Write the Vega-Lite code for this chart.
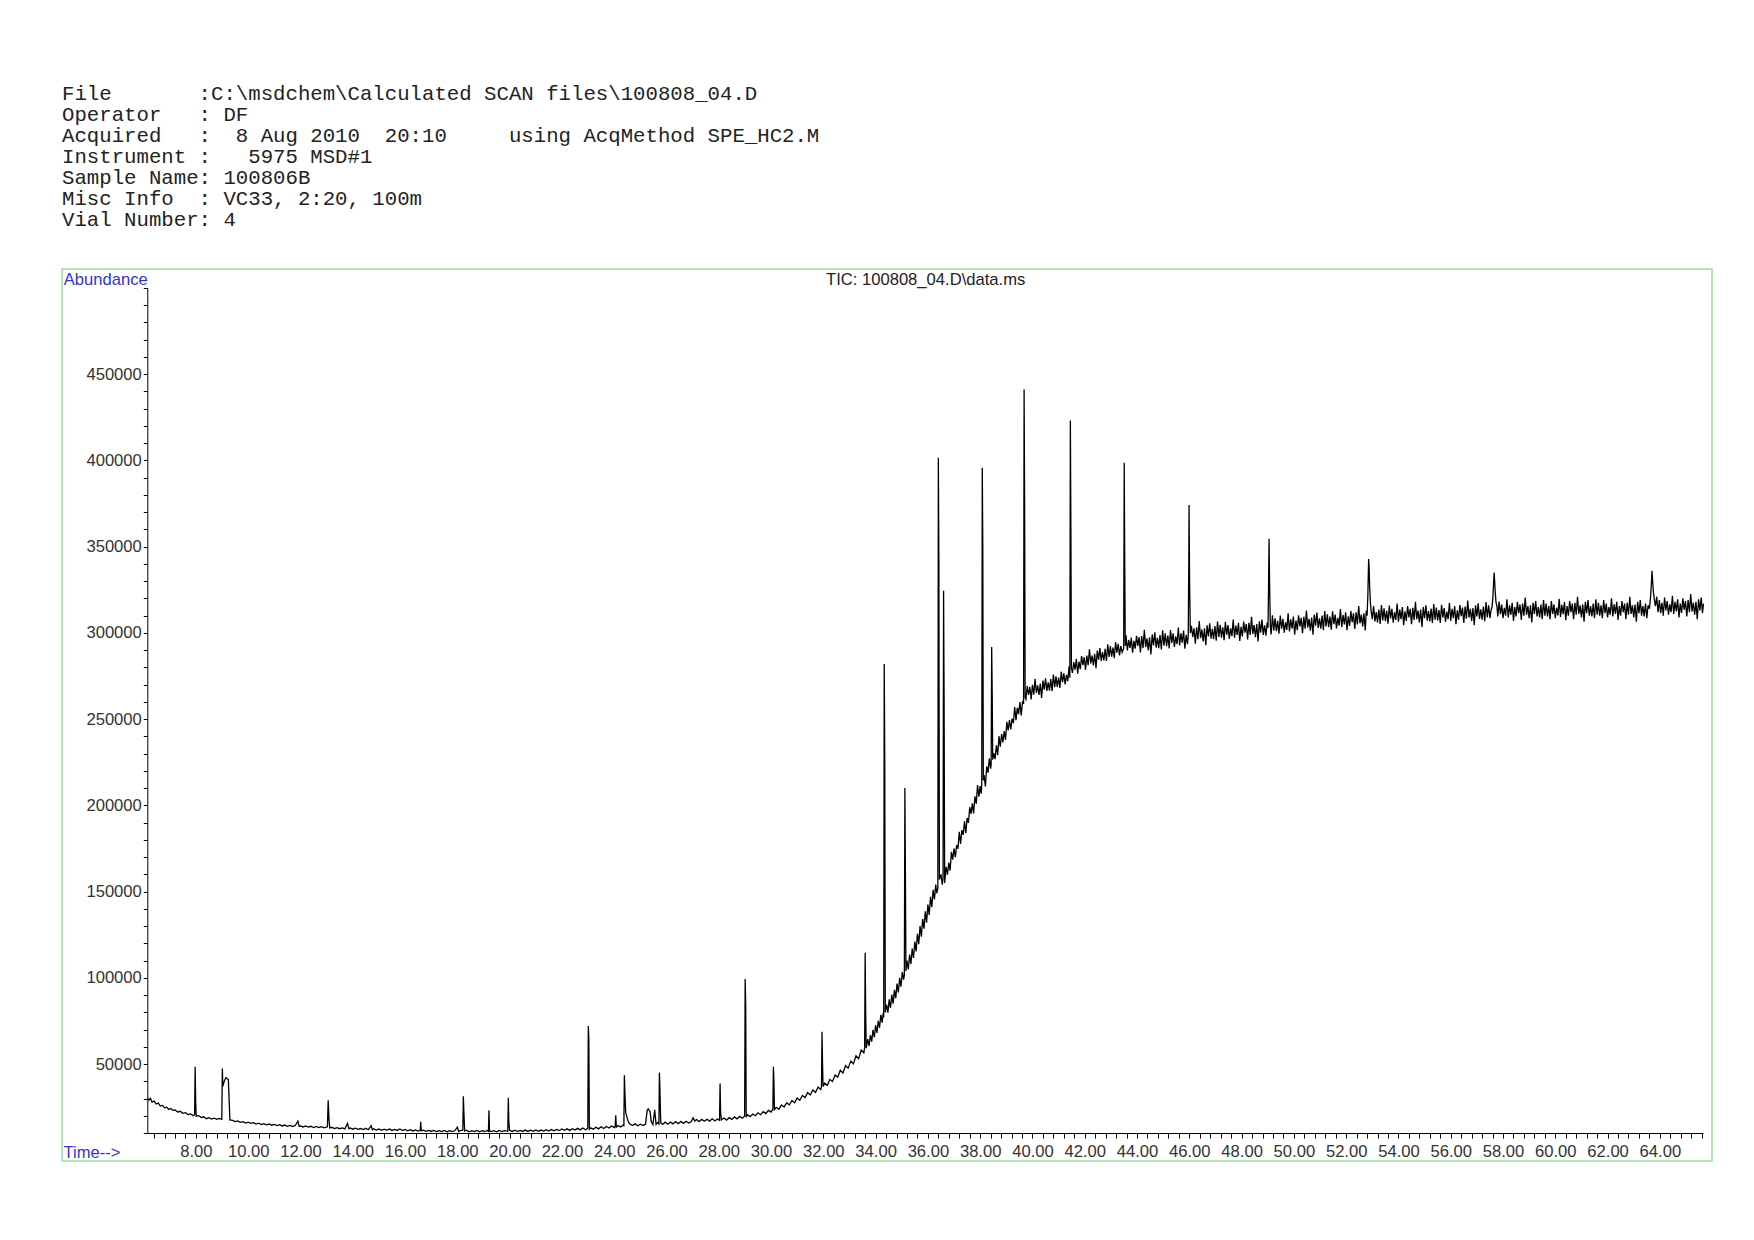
{
"$schema":"https://vega.github.io/schema/vega-lite/v6.json",
"width":1650,"height":892,
"autosize":{"type":"none"},
"padding":{"left":62,"top":269,"right":42,"bottom":79},
"background":"white",
"title":{"text":["File\u00a0\u00a0\u00a0\u00a0\u00a0\u00a0\u00a0:C:\\msdchem\\Calculated\u00a0SCAN\u00a0files\\100808_04.D","Operator\u00a0\u00a0\u00a0:\u00a0DF","Acquired\u00a0\u00a0\u00a0:\u00a0\u00a08\u00a0Aug\u00a02010\u00a0\u00a020:10\u00a0\u00a0\u00a0\u00a0\u00a0using\u00a0AcqMethod\u00a0SPE_HC2.M","Instrument\u00a0:\u00a0\u00a0\u00a05975\u00a0MSD#1","Sample\u00a0Name:\u00a0100806B","Misc\u00a0Info\u00a0\u00a0:\u00a0VC33,\u00a02:20,\u00a0100m","Vial\u00a0Number:\u00a04"],
"anchor":"start","frame":"group","font":"Liberation Mono","fontSize":20.7,"fontWeight":"normal","color":"#222222","lineHeight":20.9,"offset":38.5},
"config":{"view":{"stroke":"#98e0a0","strokeWidth":1.5},
"axis":{"labelFont":"Liberation Sans","labelFontSize":16.6,"labelColor":"#333333","tickColor":"#000000","domainColor":"#000000","domainWidth":1,"tickWidth":1,"grid":false,"titleFont":"Liberation Sans","titleFontSize":16.6,"titleFontWeight":"normal"}},
"data":{"values":[
{"time":6.14,"tic":30300},{"time":6.2,"tic":29000},{"time":6.26,"tic":30100},{"time":6.32,"tic":27900},{"time":6.4,"tic":28500},{"time":6.48,"tic":26800},{"time":6.56,"tic":27300},{"time":6.64,"tic":25600},{"time":6.72,"tic":26000},{"time":6.8,"tic":24600},{"time":6.88,"tic":25000},{"time":6.96,"tic":23700},{"time":7.04,"tic":24200},{"time":7.12,"tic":23100},{"time":7.2,"tic":23400},{"time":7.3,"tic":22200},{"time":7.4,"tic":22600},{"time":7.5,"tic":21400},{"time":7.6,"tic":21800},{"time":7.7,"tic":20700},{"time":7.8,"tic":21100},{"time":7.9,"tic":20000},{"time":7.95,"tic":20600},{"time":7.97,"tic":48400},{"time":7.99,"tic":29000},{"time":8.01,"tic":19800},{"time":8.1,"tic":20100},{"time":8.2,"tic":19000},{"time":8.3,"tic":19400},{"time":8.4,"tic":18300},{"time":8.5,"tic":18900},{"time":8.6,"tic":18100},{"time":8.7,"tic":18600},{"time":8.8,"tic":17900},{"time":8.9,"tic":18500},{"time":8.99,"tic":18000},{"time":9.01,"tic":47400},{"time":9.03,"tic":37000},{"time":9.06,"tic":38900},{"time":9.1,"tic":40600},{"time":9.15,"tic":42200},{"time":9.2,"tic":41500},{"time":9.24,"tic":41000},{"time":9.27,"tic":29000},{"time":9.3,"tic":17600},{"time":9.4,"tic":17300},{"time":9.5,"tic":16600},{"time":9.6,"tic":17000},{"time":9.7,"tic":16200},{"time":9.8,"tic":16600},{"time":9.9,"tic":15800},{"time":10.0,"tic":16300},{"time":10.1,"tic":15600},{"time":10.2,"tic":16000},{"time":10.3,"tic":15200},{"time":10.4,"tic":15700},{"time":10.5,"tic":14900},{"time":10.6,"tic":15400},{"time":10.7,"tic":14700},{"time":10.8,"tic":15200},{"time":10.9,"tic":14500},{"time":11.0,"tic":15000},{"time":11.1,"tic":14300},{"time":11.2,"tic":14800},{"time":11.3,"tic":14100},{"time":11.4,"tic":14600},{"time":11.5,"tic":13900},{"time":11.6,"tic":14400},{"time":11.7,"tic":13700},{"time":11.8,"tic":14300},{"time":11.9,"tic":16800},{"time":11.95,"tic":13800},{"time":12.0,"tic":14100},{"time":12.1,"tic":13500},{"time":12.2,"tic":14100},{"time":12.3,"tic":13400},{"time":12.4,"tic":13900},{"time":12.5,"tic":13200},{"time":12.6,"tic":13800},{"time":12.7,"tic":13100},{"time":12.8,"tic":13700},{"time":12.9,"tic":13000},{"time":13.03,"tic":13600},{"time":13.06,"tic":29000},{"time":13.09,"tic":18000},{"time":13.12,"tic":12900},{"time":13.2,"tic":13300},{"time":13.3,"tic":12600},{"time":13.4,"tic":13100},{"time":13.5,"tic":12500},{"time":13.6,"tic":13000},{"time":13.7,"tic":12400},{"time":13.8,"tic":15600},{"time":13.85,"tic":12500},{"time":13.9,"tic":12900},{"time":14.0,"tic":12200},{"time":14.1,"tic":12800},{"time":14.2,"tic":12100},{"time":14.3,"tic":12600},{"time":14.4,"tic":12000},{"time":14.5,"tic":12700},{"time":14.6,"tic":11900},{"time":14.7,"tic":14200},{"time":14.75,"tic":11900},{"time":14.8,"tic":12400},{"time":14.9,"tic":11700},{"time":15.0,"tic":12300},{"time":15.1,"tic":11600},{"time":15.2,"tic":12200},{"time":15.3,"tic":11600},{"time":15.4,"tic":12300},{"time":15.5,"tic":11500},{"time":15.6,"tic":12100},{"time":15.7,"tic":11500},{"time":15.8,"tic":12300},{"time":15.9,"tic":11400},{"time":16.0,"tic":12100},{"time":16.1,"tic":11300},{"time":16.2,"tic":11900},{"time":16.3,"tic":11200},{"time":16.4,"tic":11800},{"time":16.5,"tic":11100},{"time":16.58,"tic":11600},{"time":16.6,"tic":16500},{"time":16.62,"tic":11300},{"time":16.7,"tic":11600},{"time":16.8,"tic":11000},{"time":16.9,"tic":11500},{"time":17.0,"tic":10900},{"time":17.1,"tic":11500},{"time":17.2,"tic":10800},{"time":17.3,"tic":11400},{"time":17.4,"tic":10800},{"time":17.5,"tic":11500},{"time":17.6,"tic":10700},{"time":17.7,"tic":11400},{"time":17.8,"tic":10800},{"time":17.9,"tic":11300},{"time":18.0,"tic":13400},{"time":18.05,"tic":10900},{"time":18.1,"tic":11400},{"time":18.21,"tic":11600},{"time":18.23,"tic":31300},{"time":18.25,"tic":22000},{"time":18.28,"tic":11100},{"time":18.35,"tic":11600},{"time":18.45,"tic":10700},{"time":18.55,"tic":11400},{"time":18.65,"tic":10800},{"time":18.75,"tic":11500},{"time":18.85,"tic":10700},{"time":18.95,"tic":11300},{"time":19.05,"tic":10800},{"time":19.15,"tic":11500},{"time":19.19,"tic":11000},{"time":19.21,"tic":23200},{"time":19.23,"tic":11200},{"time":19.3,"tic":10800},{"time":19.4,"tic":11400},{"time":19.5,"tic":10700},{"time":19.6,"tic":11500},{"time":19.7,"tic":10800},{"time":19.8,"tic":11400},{"time":19.93,"tic":11000},{"time":19.95,"tic":30400},{"time":19.97,"tic":16000},{"time":20.0,"tic":11500},{"time":20.1,"tic":10900},{"time":20.2,"tic":11600},{"time":20.3,"tic":10800},{"time":20.4,"tic":11500},{"time":20.5,"tic":10900},{"time":20.6,"tic":11700},{"time":20.7,"tic":10900},{"time":20.8,"tic":11600},{"time":20.9,"tic":11000},{"time":21.0,"tic":11800},{"time":21.1,"tic":11000},{"time":21.2,"tic":11700},{"time":21.3,"tic":11100},{"time":21.4,"tic":11900},{"time":21.5,"tic":11100},{"time":21.6,"tic":12000},{"time":21.7,"tic":11300},{"time":21.8,"tic":12100},{"time":21.9,"tic":11400},{"time":22.0,"tic":12300},
{"time":22.1,"tic":11600},{"time":22.2,"tic":12400},{"time":22.3,"tic":11500},{"time":22.4,"tic":12500},{"time":22.5,"tic":11700},{"time":22.6,"tic":12700},{"time":22.7,"tic":11800},{"time":22.8,"tic":12900},{"time":22.9,"tic":11900},{"time":22.99,"tic":12800},{"time":23.01,"tic":72000},{"time":23.03,"tic":64000},{"time":23.05,"tic":12200},{"time":23.1,"tic":13000},{"time":23.2,"tic":12200},{"time":23.3,"tic":13300},{"time":23.4,"tic":12400},{"time":23.5,"tic":13600},{"time":23.6,"tic":12600},{"time":23.7,"tic":13800},{"time":23.8,"tic":12900},{"time":23.9,"tic":14100},{"time":24.0,"tic":13100},{"time":24.04,"tic":14000},{"time":24.06,"tic":20300},{"time":24.08,"tic":13400},{"time":24.15,"tic":14300},{"time":24.25,"tic":13500},{"time":24.33,"tic":14500},{"time":24.37,"tic":14200},{"time":24.39,"tic":43500},{"time":24.41,"tic":33000},{"time":24.44,"tic":22000},{"time":24.5,"tic":18500},{"time":24.55,"tic":16300},{"time":24.6,"tic":15200},{"time":24.7,"tic":14300},{"time":24.8,"tic":15300},{"time":24.9,"tic":14200},{"time":25.0,"tic":15100},{"time":25.1,"tic":14300},{"time":25.2,"tic":15200},{"time":25.26,"tic":23000},{"time":25.3,"tic":24000},{"time":25.37,"tic":22500},{"time":25.42,"tic":16500},{"time":25.48,"tic":14800},{"time":25.55,"tic":23500},{"time":25.6,"tic":15000},{"time":25.66,"tic":16100},{"time":25.71,"tic":15200},{"time":25.73,"tic":45000},{"time":25.75,"tic":35000},{"time":25.78,"tic":16000},{"time":25.85,"tic":15000},{"time":25.95,"tic":16300},{"time":26.05,"tic":15100},{"time":26.15,"tic":16400},{"time":26.25,"tic":15300},{"time":26.35,"tic":16600},{"time":26.45,"tic":15400},{"time":26.55,"tic":16700},{"time":26.65,"tic":15600},{"time":26.75,"tic":16800},{"time":26.85,"tic":15800},{"time":26.95,"tic":16600},{"time":27.02,"tic":18800},{"time":27.08,"tic":16900},{"time":27.15,"tic":17800},{"time":27.25,"tic":16600},{"time":27.35,"tic":17900},{"time":27.45,"tic":16800},{"time":27.55,"tic":18000},{"time":27.65,"tic":16900},{"time":27.75,"tic":18200},{"time":27.85,"tic":17000},{"time":27.95,"tic":18100},{"time":28.03,"tic":17300},{"time":28.05,"tic":38700},{"time":28.07,"tic":22000},{"time":28.1,"tic":17600},{"time":28.2,"tic":18700},{"time":28.3,"tic":17500},{"time":28.4,"tic":18900},{"time":28.5,"tic":17900},{"time":28.6,"tic":19300},{"time":28.7,"tic":18200},{"time":28.8,"tic":19600},{"time":28.9,"tic":18600},{"time":28.99,"tic":19800},{"time":29.01,"tic":99300},{"time":29.03,"tic":85000},{"time":29.05,"tic":19200},{"time":29.1,"tic":20600},{"time":29.2,"tic":19500},{"time":29.3,"tic":21000},{"time":29.4,"tic":20000},{"time":29.5,"tic":21700},{"time":29.6,"tic":20600},{"time":29.7,"tic":22400},{"time":29.8,"tic":21300},{"time":29.9,"tic":23100},{"time":30.0,"tic":22100},{"time":30.07,"tic":23900},{"time":30.09,"tic":48400},{"time":30.11,"tic":40000},{"time":30.13,"tic":23500},{"time":30.2,"tic":24900},{"time":30.3,"tic":23800},{"time":30.4,"tic":26300},{"time":30.5,"tic":25100},{"time":30.6,"tic":27600},{"time":30.7,"tic":26200},{"time":30.8,"tic":28900},{"time":30.9,"tic":27600},{"time":31.0,"tic":30300},{"time":31.1,"tic":29000},{"time":31.2,"tic":31800},{"time":31.3,"tic":30600},{"time":31.4,"tic":33400},{"time":31.5,"tic":32000},{"time":31.6,"tic":35000},{"time":31.7,"tic":33500},{"time":31.8,"tic":36600},{"time":31.9,"tic":35200},{"time":31.93,"tic":36900},{"time":31.95,"tic":68700},{"time":31.97,"tic":50000},{"time":31.99,"tic":37000},{"time":32.05,"tic":38900},{"time":32.15,"tic":37600},{"time":32.25,"tic":41000},{"time":32.35,"tic":39900},{"time":32.45,"tic":43600},{"time":32.55,"tic":42400},{"time":32.65,"tic":46400},{"time":32.75,"tic":44800},{"time":32.85,"tic":49000},{"time":32.95,"tic":47600},{"time":33.05,"tic":51700},{"time":33.15,"tic":50100},{"time":33.25,"tic":54800},{"time":33.35,"tic":53100},{"time":33.45,"tic":58100},{"time":33.55,"tic":56500},{"time":33.58,"tic":59500},{"time":33.6,"tic":114500},{"time":33.62,"tic":80000},{"time":33.64,"tic":59200},{"time":33.7,"tic":64500},{"time":33.75,"tic":60500},{"time":33.8,"tic":66800},{"time":33.85,"tic":63000},{"time":33.9,"tic":69800},{"time":33.95,"tic":65500},{"time":34.0,"tic":72500},{"time":34.05,"tic":68000},{"time":34.1,"tic":75000},{"time":34.15,"tic":71000},{"time":34.2,"tic":78500},{"time":34.25,"tic":74000},{"time":34.29,"tic":79500},{"time":34.31,"tic":77000},{"time":34.33,"tic":282000},{"time":34.35,"tic":225000},{"time":34.37,"tic":80000},{"time":34.42,"tic":84500},{"time":34.47,"tic":79800},{"time":34.52,"tic":87500},{"time":34.57,"tic":82600},{"time":34.62,"tic":90200},{"time":34.67,"tic":85000},{"time":34.72,"tic":93000},{"time":34.77,"tic":88200},{"time":34.82,"tic":96600},{"time":34.87,"tic":91500},{"time":34.92,"tic":100000},{"time":34.97,"tic":94800},{"time":35.02,"tic":103400},{"time":35.07,"tic":99000},{"time":35.1,"tic":101500},{"time":35.12,"tic":210000},{"time":35.14,"tic":160000},{"time":35.16,"tic":104000},{"time":35.2,"tic":110000},{"time":35.25,"tic":104800},{"time":35.3,"tic":113500},{"time":35.35,"tic":108000},{"time":35.4,"tic":117000},{"time":35.45,"tic":111500},{"time":35.5,"tic":121000},{"time":35.55,"tic":115300},{"time":35.6,"tic":125500},{"time":35.65,"tic":119500},{"time":35.7,"tic":130000},{"time":35.75,"tic":123800},{"time":35.8,"tic":134000},{"time":35.85,"tic":128500},{"time":35.9,"tic":138500},{"time":35.95,"tic":132000},{"time":36.0,"tic":142500},{"time":36.05,"tic":136500},{"time":36.1,"tic":147000},{"time":36.15,"tic":141000},{"time":36.2,"tic":151000},{"time":36.25,"tic":145500},{"time":36.3,"tic":154000},{"time":36.34,"tic":149000},{"time":36.38,"tic":152000},
{"time":36.4,"tic":401500},{"time":36.42,"tic":340000},{"time":36.44,"tic":157000},{"time":36.5,"tic":160000},{"time":36.55,"tic":154000},{"time":36.58,"tic":158000},{"time":36.6,"tic":324500},{"time":36.62,"tic":262000},{"time":36.64,"tic":155000},
{"time":36.7,"tic":164400},{"time":36.75,"tic":159800},{"time":36.8,"tic":166800},{"time":36.85,"tic":162200},{"time":36.9,"tic":173000},{"time":36.95,"tic":168500},{"time":37.0,"tic":175000},{"time":37.05,"tic":170000},{"time":37.1,"tic":176900},{"time":37.15,"tic":174800},{"time":37.2,"tic":184700},{"time":37.25,"tic":177600},{"time":37.3,"tic":185600},{"time":37.35,"tic":182900},{"time":37.4,"tic":190800},{"time":37.45,"tic":183900},{"time":37.5,"tic":192700},{"time":37.55,"tic":189800},{"time":37.6,"tic":198900},{"time":37.65,"tic":195100},{"time":37.7,"tic":201200},{"time":37.75,"tic":195300},{"time":37.8,"tic":205200},{"time":37.85,"tic":201000},{"time":37.9,"tic":211800},{"time":37.95,"tic":205100},{"time":38.0,"tic":211100},{"time":38.04,"tic":206800},{"time":38.06,"tic":212000},{"time":38.08,"tic":395700},{"time":38.1,"tic":350000},{"time":38.12,"tic":214500},{"time":38.15,"tic":217600},{"time":38.2,"tic":211000},{"time":38.25,"tic":222600},{"time":38.3,"tic":219000},{"time":38.35,"tic":227200},{"time":38.4,"tic":221300},{"time":38.42,"tic":224000},{"time":38.44,"tic":291800},{"time":38.46,"tic":265000},{"time":38.48,"tic":226500},{"time":38.52,"tic":230300},{"time":38.57,"tic":226800},{"time":38.62,"tic":234800},{"time":38.67,"tic":229100},{"time":38.72,"tic":240100},{"time":38.77,"tic":234000},{"time":38.82,"tic":241400},{"time":38.87,"tic":236500},{"time":38.92,"tic":243000},{"time":38.97,"tic":238000},{"time":39.02,"tic":248400},{"time":39.07,"tic":243500},{"time":39.12,"tic":249500},{"time":39.17,"tic":244000},{"time":39.22,"tic":250300},{"time":39.27,"tic":247700},{"time":39.32,"tic":257000},{"time":39.37,"tic":249400},{"time":39.42,"tic":256500},{"time":39.47,"tic":252900},{"time":39.52,"tic":259900},{"time":39.57,"tic":252100},{"time":39.62,"tic":260000},{"time":39.66,"tic":259500},{"time":39.68,"tic":441200},{"time":39.7,"tic":375000},{"time":39.72,"tic":262500},{"time":39.75,"tic":261500},{"time":39.8,"tic":269200},{"time":39.85,"tic":264000},{"time":39.9,"tic":268700},{"time":39.95,"tic":261400},{"time":40.0,"tic":269900},{"time":40.05,"tic":264200},{"time":40.1,"tic":273400},{"time":40.15,"tic":265200},{"time":40.2,"tic":269600},{"time":40.25,"tic":264000},{"time":40.3,"tic":270600},{"time":40.35,"tic":262300},{"time":40.4,"tic":272300},{"time":40.45,"tic":267100},{"time":40.5,"tic":273700},{"time":40.55,"tic":266300},{"time":40.6,"tic":271300},{"time":40.65,"tic":266500},{"time":40.7,"tic":273200},{"time":40.75,"tic":266200},{"time":40.8,"tic":275900},{"time":40.85,"tic":268500},{"time":40.9,"tic":274800},{"time":40.95,"tic":268700},{"time":41.0,"tic":274100},{"time":41.05,"tic":268100},{"time":41.1,"tic":277500},{"time":41.15,"tic":271400},{"time":41.2,"tic":276500},{"time":41.25,"tic":270100},{"time":41.3,"tic":275600},{"time":41.35,"tic":272000},{"time":41.4,"tic":280500},{"time":41.43,"tic":274000},{"time":41.45,"tic":423200},{"time":41.47,"tic":360000},{"time":41.49,"tic":279500},{"time":41.53,"tic":276800},{"time":41.58,"tic":283100},{"time":41.63,"tic":278700},{"time":41.68,"tic":284900},{"time":41.73,"tic":276300},{"time":41.78,"tic":283400},{"time":41.83,"tic":279000},{"time":41.88,"tic":286600},{"time":41.93,"tic":281300},{"time":41.98,"tic":285900},{"time":42.03,"tic":278500},{"time":42.08,"tic":286900},{"time":42.13,"tic":281200},{"time":42.18,"tic":290500},{"time":42.23,"tic":282300},{"time":42.28,"tic":286800},{"time":42.33,"tic":281200},{"time":42.38,"tic":287900},{"time":42.43,"tic":279600},{"time":42.48,"tic":289700},{"time":42.53,"tic":284500},{"time":42.58,"tic":291200},{"time":42.63,"tic":283800},{"time":42.68,"tic":288800},{"time":42.73,"tic":284000},{"time":42.78,"tic":290700},{"time":42.83,"tic":283700},{"time":42.88,"tic":293400},{"time":42.93,"tic":286000},{"time":42.98,"tic":292300},{"time":43.03,"tic":286200},{"time":43.08,"tic":291500},{"time":43.13,"tic":285400},{"time":43.18,"tic":294700},{"time":43.23,"tic":288600},{"time":43.28,"tic":293600},{"time":43.33,"tic":287000},{"time":43.38,"tic":292400},{"time":43.43,"tic":288800},{"time":43.49,"tic":291000},{"time":43.51,"tic":398600},{"time":43.53,"tic":340000},{"time":43.55,"tic":292500},{"time":43.58,"tic":298600},{"time":43.63,"tic":289800},{"time":43.68,"tic":295900},{"time":43.73,"tic":291300},{"time":43.78,"tic":297300},{"time":43.83,"tic":288500},{"time":43.88,"tic":295400},{"time":43.93,"tic":290800},{"time":43.98,"tic":298300},
{"time":44.03,"tic":292500},{"time":44.08,"tic":297600},{"time":44.13,"tic":288600},{"time":44.18,"tic":298200},{"time":44.23,"tic":291200},{"time":44.28,"tic":301800},{"time":44.33,"tic":291800},{"time":44.38,"tic":296900},{"time":44.43,"tic":289900},{"time":44.48,"tic":297500},{"time":44.53,"tic":287500},{"time":44.58,"tic":299100},{"time":44.63,"tic":292800},{"time":44.68,"tic":300400},{"time":44.73,"tic":291500},{"time":44.78,"tic":297100},{"time":44.83,"tic":291200},{"time":44.88,"tic":298800},{"time":44.93,"tic":290400},{"time":44.98,"tic":301500},{"time":45.03,"tic":292600},{"time":45.08,"tic":299700},{"time":45.13,"tic":292300},{"time":45.18,"tic":298400},{"time":45.23,"tic":291000},{"time":45.28,"tic":301600},{"time":45.33,"tic":294200},{"time":45.38,"tic":299800},{"time":45.43,"tic":291900},{"time":45.48,"tic":298000},{"time":45.53,"tic":293500},{"time":45.58,"tic":303100},{"time":45.63,"tic":292700},{"time":45.68,"tic":299700},{"time":45.73,"tic":294300},{"time":45.78,"tic":301300},{"time":45.83,"tic":290900},{"time":45.88,"tic":298900},{"time":45.93,"tic":293500},{"time":45.96,"tic":299000},{"time":45.98,"tic":340000},{"time":45.99,"tic":374200},{"time":46.01,"tic":330000},{"time":46.04,"tic":300000},{"time":46.08,"tic":304100},{"time":46.13,"tic":297600},{"time":46.18,"tic":302700},{"time":46.23,"tic":293800},{"time":46.28,"tic":303300},{"time":46.33,"tic":296400},{"time":46.38,"tic":306900},{"time":46.43,"tic":297000},{"time":46.48,"tic":302000},{"time":46.53,"tic":295100},{"time":46.58,"tic":302700},{"time":46.63,"tic":292800},{"time":46.68,"tic":304400},{"time":46.73,"tic":298000},{"time":46.78,"tic":305600},{"time":46.83,"tic":296700},{"time":46.88,"tic":302300},{"time":46.93,"tic":296400},{"time":46.98,"tic":304000},{"time":47.03,"tic":295500},{"time":47.08,"tic":306600},{"time":47.13,"tic":297600},{"time":47.18,"tic":304700},{"time":47.23,"tic":297200},{"time":47.28,"tic":303300},{"time":47.33,"tic":295800},{"time":47.38,"tic":306400},{"time":47.43,"tic":298900},{"time":47.48,"tic":304500},{"time":47.53,"tic":296500},{"time":47.58,"tic":302600},{"time":47.63,"tic":298100},{"time":47.68,"tic":307700},{"time":47.73,"tic":297200},{"time":47.78,"tic":304300},{"time":47.83,"tic":298800},{"time":47.88,"tic":305900},{"time":47.93,"tic":295400},{"time":47.98,"tic":303500},{"time":48.03,"tic":298000},{"time":48.08,"tic":306600},{"time":48.13,"tic":300100},{"time":48.18,"tic":305200},{"time":48.23,"tic":296200},{"time":48.28,"tic":305800},{"time":48.33,"tic":298800},{"time":48.38,"tic":309400},{"time":48.43,"tic":299400},{"time":48.48,"tic":304500},{"time":48.53,"tic":297500},{"time":48.58,"tic":305100},{"time":48.63,"tic":295100},{"time":48.68,"tic":306700},{"time":48.73,"tic":300200},{"time":48.78,"tic":307800},{"time":48.83,"tic":298800},{"time":48.88,"tic":304400},{"time":48.93,"tic":298400},{"time":48.98,"tic":306000},{"time":49.01,"tic":303000},{"time":49.03,"tic":325000},{"time":49.05,"tic":354600},{"time":49.07,"tic":330000},{"time":49.1,"tic":304000},{"time":49.13,"tic":299100},{"time":49.18,"tic":310200},{"time":49.23,"tic":301300},{"time":49.28,"tic":308400},{"time":49.33,"tic":301000},{"time":49.38,"tic":307000},{"time":49.43,"tic":299500},{"time":49.48,"tic":310000},{"time":49.53,"tic":302500},{"time":49.58,"tic":308100},{"time":49.63,"tic":300100},{"time":49.68,"tic":306200},{"time":49.73,"tic":301700},{"time":49.78,"tic":311300},{"time":49.83,"tic":300800},{"time":49.88,"tic":307900},{"time":49.93,"tic":302400},{"time":49.98,"tic":309500},{"time":50.03,"tic":299000},{"time":50.08,"tic":307100},{"time":50.13,"tic":301600},{"time":50.18,"tic":310200},{"time":50.23,"tic":303700},{"time":50.28,"tic":308800},{"time":50.33,"tic":299800},{"time":50.38,"tic":309400},{"time":50.43,"tic":302400},{"time":50.48,"tic":313000},{"time":50.53,"tic":303100},{"time":50.58,"tic":308200},{"time":50.63,"tic":301300},{"time":50.68,"tic":308900},{"time":50.73,"tic":299000},{"time":50.78,"tic":310600},{"time":50.83,"tic":304200},{"time":50.88,"tic":311800},{"time":50.93,"tic":302900},{"time":50.98,"tic":308500},{"time":51.03,"tic":302500},{"time":51.08,"tic":310100},{"time":51.13,"tic":301600},{"time":51.18,"tic":312700},{"time":51.23,"tic":303700},{"time":51.28,"tic":310800},{"time":51.33,"tic":303300},{"time":51.38,"tic":309400},{"time":51.43,"tic":301900},{"time":51.48,"tic":312500},{"time":51.53,"tic":305000},{"time":51.58,"tic":310600},{"time":51.63,"tic":302600},{"time":51.68,"tic":308700},{"time":51.73,"tic":304200},{"time":51.78,"tic":313800},{"time":51.83,"tic":303300},{"time":51.88,"tic":310400},{"time":51.93,"tic":304900},{"time":51.98,"tic":312000},{"time":52.03,"tic":301500},{"time":52.08,"tic":309600},{"time":52.13,"tic":304100},{"time":52.18,"tic":312700},{"time":52.23,"tic":306200},{"time":52.28,"tic":311300},{"time":52.33,"tic":302300},{"time":52.38,"tic":311900},{"time":52.43,"tic":304900},{"time":52.48,"tic":315500},{"time":52.53,"tic":305600},{"time":52.58,"tic":310600},{"time":52.63,"tic":303700},{"time":52.68,"tic":311300},{"time":52.73,"tic":301400},{"time":52.77,"tic":313000},{"time":52.8,"tic":310000},{"time":52.83,"tic":322000},{"time":52.85,"tic":336000},{"time":52.86,"tic":342900},{"time":52.88,"tic":337000},{"time":52.9,"tic":326000},{"time":52.93,"tic":317000},{"time":52.96,"tic":312000},{"time":53.0,"tic":308000},{"time":53.05,"tic":315500},{"time":53.1,"tic":306600},{"time":53.15,"tic":312100},{"time":53.2,"tic":306100},{"time":53.25,"tic":313600},{"time":53.3,"tic":305200},{"time":53.35,"tic":316200},{"time":53.4,"tic":307200},{"time":53.45,"tic":314200},{"time":53.5,"tic":306800},{"time":53.55,"tic":312800},{"time":53.6,"tic":305300},{"time":53.65,"tic":315800},{"time":53.7,"tic":308400},{"time":53.75,"tic":313900},{"time":53.8,"tic":305900},{"time":53.85,"tic":311900},{"time":53.9,"tic":307500},{"time":53.95,"tic":317000},{"time":54.0,"tic":306500},{"time":54.05,"tic":313500},{"time":54.1,"tic":308000},{"time":54.15,"tic":315000},{"time":54.2,"tic":304500},{"time":54.25,"tic":312500},{"time":54.3,"tic":307000},{"time":54.35,"tic":315500},{"time":54.4,"tic":309000},{"time":54.45,"tic":314000},{"time":54.5,"tic":305000},{"time":54.55,"tic":314500},{"time":54.6,"tic":307500},{"time":54.65,"tic":318000},{"time":54.7,"tic":308000},{"time":54.75,"tic":313000},{"time":54.8,"tic":306000},{"time":54.85,"tic":313500},{"time":54.9,"tic":303500},{"time":54.95,"tic":315000},{"time":55.0,"tic":308500},{"time":55.05,"tic":316000},{"time":55.1,"tic":307100},{"time":55.15,"tic":312600},{"time":55.2,"tic":306600},{"time":55.25,"tic":314100},{"time":55.3,"tic":305700},{"time":55.35,"tic":316700},{"time":55.4,"tic":307700},{"time":55.45,"tic":314700},{"time":55.5,"tic":307300},{"time":55.55,"tic":313300},{"time":55.6,"tic":305800},{"time":55.65,"tic":316300},{"time":55.7,"tic":308900},{"time":55.75,"tic":314400},{"time":55.8,"tic":306400},{"time":55.85,"tic":312400},{"time":55.9,"tic":308000},{"time":55.95,"tic":317500},{"time":56.0,"tic":307000},{"time":56.05,"tic":314000},{"time":56.1,"tic":308600},{"time":56.15,"tic":315600},{"time":56.2,"tic":305100},{"time":56.25,"tic":313100},{"time":56.3,"tic":307700},{"time":56.35,"tic":316200},{"time":56.4,"tic":309700},{"time":56.45,"tic":314700},{"time":56.5,"tic":305800},{"time":56.55,"tic":315300},{"time":56.6,"tic":308300},{"time":56.65,"tic":318800},{"time":56.7,"tic":308900},{"time":56.75,"tic":313900},{"time":56.8,"tic":306900},{"time":56.85,"tic":314400},{"time":56.9,"tic":304500},{"time":56.95,"tic":316000},{"time":57.0,"tic":309500},{"time":57.05,"tic":317100},{"time":57.1,"tic":308100},{"time":57.15,"tic":313700},{"time":57.2,"tic":307700},{"time":57.25,"tic":315300},{"time":57.3,"tic":306800},{"time":57.35,"tic":317900},{"time":57.4,"tic":308900},{"time":57.45,"tic":316000},{"time":57.5,"tic":308500},{"time":57.54,"tic":313000},{"time":57.58,"tic":315000},{"time":57.61,"tic":320000},{"time":57.63,"tic":326000},{"time":57.66,"tic":335000},{"time":57.68,"tic":330000},{"time":57.7,"tic":324000},{"time":57.73,"tic":318000},{"time":57.77,"tic":315000},{"time":57.8,"tic":309500},{"time":57.85,"tic":318200},{"time":57.9,"tic":310800},{"time":57.95,"tic":316400},{"time":58.0,"tic":308500},{"time":58.05,"tic":314500},{"time":58.1,"tic":310000},{"time":58.15,"tic":319500},{"time":58.2,"tic":309000},{"time":58.25,"tic":316000},{"time":58.3,"tic":310500},{"time":58.35,"tic":317500},{"time":58.4,"tic":307000},{"time":58.45,"tic":315000},{"time":58.5,"tic":309500},{"time":58.55,"tic":318000},{"time":58.6,"tic":311500},{"time":58.65,"tic":316500},{"time":58.7,"tic":307500},{"time":58.75,"tic":317000},{"time":58.8,"tic":310000},{"time":58.85,"tic":320500},{"time":58.9,"tic":310500},{"time":58.95,"tic":315500},{"time":59.0,"tic":308500},{"time":59.05,"tic":316000},{"time":59.1,"tic":306000},{"time":59.15,"tic":317500},{"time":59.2,"tic":311000},{"time":59.25,"tic":318500},{"time":59.3,"tic":309500},{"time":59.35,"tic":315000},{"time":59.4,"tic":309000},{"time":59.45,"tic":316500},{"time":59.5,"tic":308000},{"time":59.55,"tic":319000},{"time":59.6,"tic":310000},{"time":59.65,"tic":317000},{"time":59.7,"tic":309500},{"time":59.75,"tic":315500},{"time":59.8,"tic":308000},{"time":59.85,"tic":318500},{"time":59.9,"tic":311000},{"time":59.95,"tic":316500},{"time":60.0,"tic":308500},{"time":60.05,"tic":314600},{"time":60.1,"tic":310100},{"time":60.15,"tic":319700},{"time":60.2,"tic":309200},{"time":60.25,"tic":316300},{"time":60.3,"tic":310800},{"time":60.35,"tic":317900},{"time":60.4,"tic":307400},{"time":60.45,"tic":315500},{"time":60.5,"tic":310000},{"time":60.55,"tic":318500},{"time":60.6,"tic":312000},{"time":60.65,"tic":317000},{"time":60.7,"tic":308000},{"time":60.75,"tic":317500},{"time":60.8,"tic":310500},{"time":60.85,"tic":321000},{"time":60.9,"tic":311000},{"time":60.95,"tic":316000},{"time":61.0,"tic":309000},{"time":61.05,"tic":316500},{"time":61.1,"tic":306500},{"time":61.15,"tic":318000},{"time":61.2,"tic":311500},{"time":61.25,"tic":319000},{"time":61.3,"tic":310000},{"time":61.35,"tic":315500},{"time":61.4,"tic":309500},{"time":61.45,"tic":317000},{"time":61.5,"tic":308500},{"time":61.55,"tic":319500},{"time":61.6,"tic":310500},{"time":61.65,"tic":317500},{"time":61.7,"tic":310000},{"time":61.75,"tic":316000},{"time":61.8,"tic":308500},{"time":61.85,"tic":319000},{"time":61.9,"tic":311500},{"time":61.95,"tic":317000},{"time":62.0,"tic":309000},{"time":62.05,"tic":315000},{"time":62.1,"tic":310500},{"time":62.15,"tic":320000},{"time":62.2,"tic":309500},{"time":62.25,"tic":316500},{"time":62.3,"tic":311000},{"time":62.35,"tic":318000},{"time":62.4,"tic":307500},{"time":62.45,"tic":315500},{"time":62.5,"tic":310000},{"time":62.55,"tic":318500},{"time":62.6,"tic":312000},{"time":62.65,"tic":317000},{"time":62.7,"tic":308000},{"time":62.75,"tic":317500},{"time":62.8,"tic":310500},{"time":62.85,"tic":321000},{"time":62.9,"tic":311000},{"time":62.95,"tic":316000},{"time":63.0,"tic":309000},{"time":63.05,"tic":316500},{"time":63.1,"tic":306500},{"time":63.15,"tic":318000},{"time":63.2,"tic":311500},{"time":63.25,"tic":319000},{"time":63.3,"tic":310000},{"time":63.35,"tic":315500},{"time":63.4,"tic":309500},{"time":63.45,"tic":317000},{"time":63.5,"tic":308500},{"time":63.55,"tic":316000},{"time":63.6,"tic":314000},{"time":63.64,"tic":320000},{"time":63.67,"tic":327000},{"time":63.7,"tic":336000},{"time":63.72,"tic":331000},{"time":63.75,"tic":324000},{"time":63.79,"tic":319000},{"time":63.83,"tic":315500},{"time":63.88,"tic":321000},{"time":63.93,"tic":312000},{"time":63.98,"tic":319000},{"time":64.03,"tic":311500},{"time":64.08,"tic":317500},{"time":64.13,"tic":310000},{"time":64.18,"tic":320500},{"time":64.23,"tic":313000},{"time":64.28,"tic":318500},{"time":64.33,"tic":310500},{"time":64.38,"tic":316500},{"time":64.43,"tic":312000},{"time":64.48,"tic":321500},{"time":64.53,"tic":311000},{"time":64.58,"tic":318000},{"time":64.63,"tic":312500},{"time":64.68,"tic":319500},{"time":64.73,"tic":309000},{"time":64.78,"tic":317000},{"time":64.83,"tic":311500},{"time":64.88,"tic":320000},{"time":64.93,"tic":313500},{"time":64.98,"tic":318500},{"time":65.03,"tic":309500},{"time":65.08,"tic":319000},{"time":65.13,"tic":312000},{"time":65.18,"tic":322500},{"time":65.23,"tic":312500},{"time":65.28,"tic":317500},{"time":65.33,"tic":310500},{"time":65.38,"tic":318000},{"time":65.43,"tic":308000},{"time":65.48,"tic":319500},{"time":65.53,"tic":313000},{"time":65.58,"tic":320500},{"time":65.63,"tic":311500},{"time":65.67,"tic":317000}
]},
"resolve":{"axis":{"x":"independent","y":"independent"}},
"layer":[
{"mark":{"type":"line","color":"#000000","strokeWidth":1.3,"interpolate":"linear"},
"encoding":{
"x":{"field":"time","type":"quantitative","scale":{"domain":[6.14,65.65],"range":[85.3,1641],"nice":false,"zero":false},
"axis":{"orient":"bottom","offset":-28,"values":[6.4,6.8,7.2,7.6,8,8.4,8.8,9.2,9.6,10,10.4,10.8,11.2,11.6,12,12.4,12.8,13.2,13.6,14,14.4,14.8,15.2,15.6,16,16.4,16.8,17.2,17.6,18,18.4,18.8,19.2,19.6,20,20.4,20.8,21.2,21.6,22,22.4,22.8,23.2,23.6,24,24.4,24.8,25.2,25.6,26,26.4,26.8,27.2,27.6,28,28.4,28.8,29.2,29.6,30,30.4,30.8,31.2,31.6,32,32.4,32.8,33.2,33.6,34,34.4,34.8,35.2,35.6,36,36.4,36.8,37.2,37.6,38,38.4,38.8,39.2,39.6,40,40.4,40.8,41.2,41.6,42,42.4,42.8,43.2,43.6,44,44.4,44.8,45.2,45.6,46,46.4,46.8,47.2,47.6,48,48.4,48.8,49.2,49.6,50,50.4,50.8,51.2,51.6,52,52.4,52.8,53.2,53.6,54,54.4,54.8,55.2,55.6,56,56.4,56.8,57.2,57.6,58,58.4,58.8,59.2,59.6,60,60.4,60.8,61.2,61.6,62,62.4,62.8,63.2,63.6,64,64.4,64.8,65.2,65.6],
"labelExpr":"abs(datum.value/2 - round(datum.value/2)) < 0.01 ? format(datum.value, '.2f') : ''",
"tickSize":5,"labelPadding":5,"labelAngle":0,"labelOverlap":false,"labelFlush":false,"labelBound":false,
"title":"Time-->","titleColor":"#3333cc","titleX":1,"titleY":19,"titleAlign":"left","titleBaseline":"middle","titleAngle":0}},
"y":{"field":"tic","type":"quantitative","scale":{"domain":[10000,500000],"range":[864,19],"nice":false,"zero":false},
"axis":{"orient":"left","offset":-85.3,"values":[10000,20000,30000,40000,50000,60000,70000,80000,90000,100000,110000,120000,130000,140000,150000,160000,170000,180000,190000,200000,210000,220000,230000,240000,250000,260000,270000,280000,290000,300000,310000,320000,330000,340000,350000,360000,370000,380000,390000,400000,410000,420000,430000,440000,450000,460000,470000,480000,490000,500000],
"labelExpr":"datum.value % 50000 == 0 && datum.value < 500000 ? format(datum.value, 'd') : ''",
"tickSize":4,"labelPadding":2,"labelOverlap":false,"labelFlush":false,"labelBound":false,
"title":"Abundance","titleColor":"#3333cc","titleAngle":0,"titleAlign":"left","titleBaseline":"middle","titleX":-84,"titleY":10}}}},
{"mark":{"type":"line","opacity":0},
"encoding":{
"x":{"field":"time","type":"quantitative","scale":{"domain":[6.14,65.65],"range":[85.3,1641],"nice":false,"zero":false},
"axis":{"orient":"top","offset":-19,"labels":false,"ticks":false,"domain":false,"title":"TIC: 100808_04.D\\data.ms","titleColor":"#222222","titlePadding":0.5}},
"y":{"field":"tic","type":"quantitative","scale":{"domain":[10000,500000],"range":[864,19],"nice":false,"zero":false},"axis":null}}}
]
}
